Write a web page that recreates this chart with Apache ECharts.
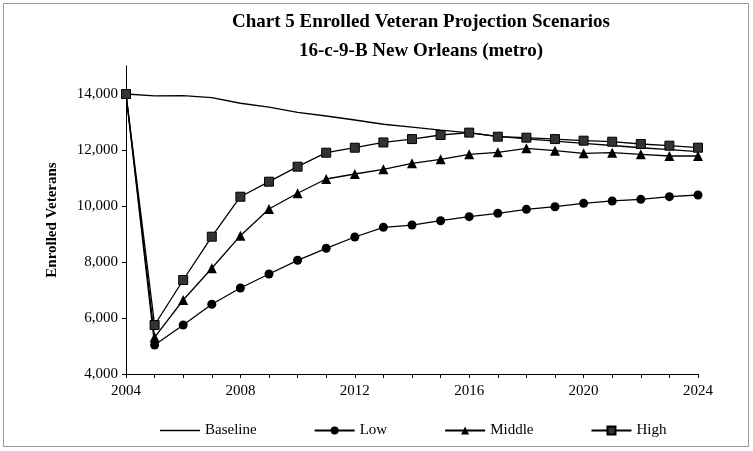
<!DOCTYPE html>
<html><head><meta charset="utf-8">
<script src="https://cdn.jsdelivr.net/npm/echarts@6/dist/echarts.min.js"></script>
<style>html,body{margin:0;padding:0;background:#fff}#c{width:753px;height:451px}</style>
</head><body><div id="c"></div>
<script>
var years = [2004,2005,2006,2007,2008,2009,2010,2011,2012,2013,2014,2015,2016,2017,2018,2019,2020,2021,2022,2023,2024];
var baseline = [14000,13930,13940,13870,13670,13535,13346,13214,13071,12920,12820,12710,12610,12490,12400,12320,12240,12160,12080,12010,11940];
var low = [14000,5036,5750,6490,7071,7571,8061,8490,8893,9240,9320,9475,9620,9740,9880,9975,10095,10180,10238,10333,10393];
var middle = [14000,5310,6643,7775,8940,9893,10454,10964,11143,11310,11525,11667,11845,11917,12060,11975,11880,11905,11845,11786,11786];
var high = [14000,5750,7357,8904,10332,10868,11404,11904,12082,12270,12390,12536,12620,12476,12440,12390,12333,12296,12214,12155,12083];
var xTickLabels = [2004,2008,2012,2016,2020,2024];
var yTickLabels = ['4,000','6,000','8,000','10,000','12,000','14,000'];

function pairs(arr){ return years.map(function(y,i){ return [y, arr[i]]; }); }
var font = 'Liberation Serif';
var chart = echarts.init(document.getElementById('c'), null, {renderer:'canvas'});
var lineStyle = {color:'#000', width:1.3};
chart.setOption({
  animation:false,
  backgroundColor:'#fff',
  graphic:[{type:'rect', shape:{x:3.5,y:3.5,width:745,height:443}, style:{fill:'none', stroke:'#999', lineWidth:1}, z:-1}],
  title:{text:'Chart 5 Enrolled Veteran Projection Scenarios\n16-c-9-B New Orleans (metro)', left:416, textAlign:'center', top:3,
    textStyle:{fontFamily:font, fontWeight:'bold', fontSize:19, lineHeight:29, color:'#000'}},
  legend:{bottom:8, left:155, itemGap:57, itemWidth:40, itemHeight:10,
    textStyle:{fontFamily:font, fontSize:15, color:'#000'},
    data:[{name:'Baseline', icon:'path://M0,0 L0,0 M0,4.35 L40,4.35 L40,5.65 L0,5.65 Z M40,10 L40,10'},'Low','Middle','High']},
  grid:{left:126, right:55, top:66, bottom:77},
  xAxis:{type:'value', min:2004, max:2024, interval:1,
    axisLine:{lineStyle:{color:'#000'}}, axisTick:{show:true, length:4, lineStyle:{color:'#000'}},
    splitLine:{show:false},
    axisLabel:{fontFamily:font, fontSize:15, color:'#000', margin:10,
      formatter:function(v){ return xTickLabels.indexOf(v) >= 0 ? String(v) : ''; }}},
  yAxis:{type:'value', min:4000, max:15000, interval:2000, name:'Enrolled Veterans', nameLocation:'middle', nameGap:66,
    nameTextStyle:{fontFamily:font, fontWeight:'bold', fontSize:15, color:'#000'},
    axisLine:{show:true, lineStyle:{color:'#000'}}, axisTick:{show:true, length:4, lineStyle:{color:'#000'}},
    splitLine:{show:false},
    axisLabel:{fontFamily:font, fontSize:15, color:'#000', showMaxLabel:false,
      formatter:function(v){ var i=(v-4000)/2000; return yTickLabels[i] || ''; }}},
  series:[
    {name:'Baseline', type:'line', data:pairs(baseline), showSymbol:false, symbol:'none', lineStyle:lineStyle, itemStyle:{color:'#000'}},
    {name:'Low', type:'line', data:pairs(low), symbol:'circle', symbolSize:9, lineStyle:lineStyle, itemStyle:{color:'#000'}},
    {name:'Middle', type:'line', data:pairs(middle), symbol:'triangle', symbolSize:10, lineStyle:lineStyle, itemStyle:{color:'#000'}},
    {name:'High', type:'line', data:pairs(high), symbol:'rect', symbolSize:9, lineStyle:lineStyle, itemStyle:{color:'#333', borderColor:'#000', borderWidth:1}}
  ]
});
</script></body></html>
